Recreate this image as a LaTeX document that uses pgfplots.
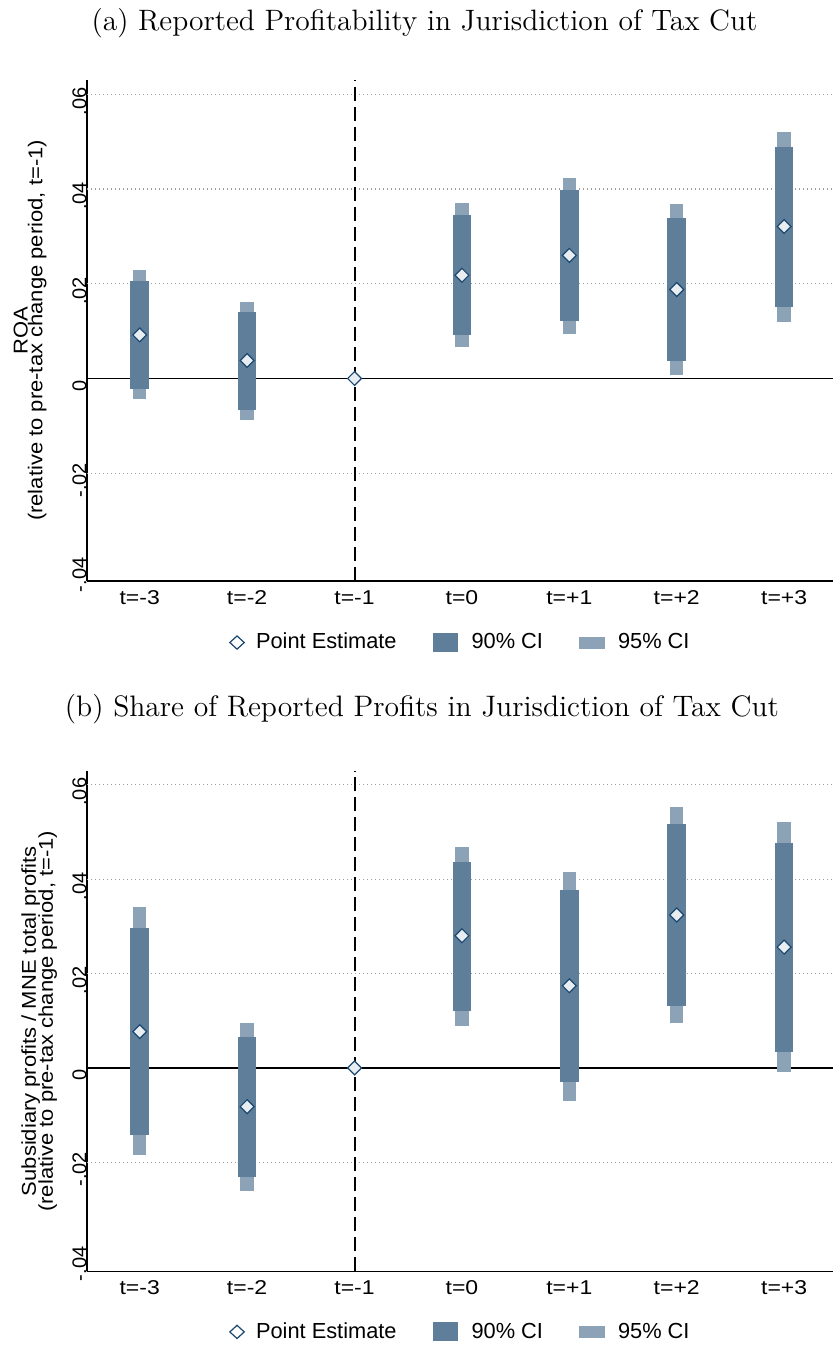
\documentclass[border=0pt]{standalone}
\usepackage{fontspec}
\usepackage{pgfplots}
\usepackage{pgfplotstable}
\pgfplotsset{compat=1.18}
\newfontfamily\sans{Liberation Sans}
\newfontfamily\xsans[FakeStretch=1.15]{Liberation Sans}
\newfontfamily\ysans[FakeStretch=1.1]{Liberation Sans}
\definecolor{navy}{RGB}{26,71,111}
\definecolor{ciA}{RGB}{95,126,154}
\definecolor{ciB}{RGB}{140,163,183}
\definecolor{ptfill}{RGB}{232,237,241}

\pgfplotstableread{
x est lo90 hi90 lo95 hi95
0 0.0092 -0.0022 0.0206 -0.0044 0.0229
1 0.0038 -0.0067 0.0140 -0.0087 0.0161
3 0.0218 0.0091 0.0345 0.0067 0.0370
4 0.0260 0.0122 0.0398 0.0095 0.0424
5 0.0188 0.0036 0.0338 0.0007 0.0368
6 0.0321 0.0152 0.0488 0.0120 0.0521
}\topci
\pgfplotstableread{
x est
0 0.0092
1 0.0038
2 0
3 0.0218
4 0.0260
5 0.0188
6 0.0321
}\toppt
\pgfplotstableread{
x est lo90 hi90 lo95 hi95
0 0.0077 -0.0143 0.0297 -0.0185 0.0341
1 -0.0082 -0.0231 0.0066 -0.0260 0.0095
3 0.0280 0.0120 0.0437 0.0089 0.0469
4 0.0174 -0.0030 0.0378 -0.0070 0.0416
5 0.0324 0.0132 0.0516 0.0095 0.0552
6 0.0256 0.0034 0.0477 -0.0008 0.0520
}\botci
\pgfplotstableread{
x est
0 0.0077
1 -0.0082
2 0
3 0.0280
4 0.0174
5 0.0324
6 0.0256
}\botpt

\pgfplotsset{
  evstyle/.style={
    scale only axis, width=373pt, xmin=-0.491, xmax=6.455,
    axis lines=left, axis line style={-, line width=0.75pt, black},
    major tick length=0pt, scaled y ticks=false,
    xtick={0,...,6}, xticklabels={{t=-3},{t=-2},{t=-1},{t=0},{t=+1},{t=+2},{t=+3}},
    ytick={-0.04,-0.02,0,0.02,0.04,0.06}, yticklabels={-.04,-.02,0,.02,.04,.06},
    xticklabel style={font=\xsans\fontsize{10}{11}\selectfont, anchor=north, inner sep=0pt, yshift=-4.5pt},
    yticklabel style={font=\sans\fontsize{10}{11}\selectfont, rotate=90, anchor=south, inner sep=0pt, xshift=-3.5pt},
    extra y ticks={-0.02,0.02,0.04,0.06},
    extra y tick style={grid=major, yticklabel=\empty, major grid style={black!38, line width=0.6pt, dash pattern=on 0.55pt off 1.45pt}},
    every axis title/.style={anchor=base, inner sep=0pt},
    legend columns=3, legend cell align=left,
    legend style={draw=none, fill=none, inner sep=0pt, outer sep=0pt, anchor=west,
      font=\sans\fontsize{10.9}{12}\selectfont, nodes={inner sep=0pt},
      /tikz/every even column/.append style={column sep=18pt}},
    every axis y label/.style={rotate=90, anchor=south, align=center, inner sep=0pt,
      font=\ysans\fontsize{10}{12}\selectfont},
  },
  ci95/.style={only marks, mark=none, forget plot, error bars/.cd, y dir=both, y explicit, error mark=none,
      error bar style={line width=6.65pt, color=ciB}},
  ci90/.style={only marks, mark=none, forget plot, error bars/.cd, y dir=both, y explicit, error mark=none,
      error bar style={line width=9.35pt, color=ciA}},
  ptstyle/.style={only marks, forget plot, mark=square*, mark size=2.45pt,
      mark options={rotate=45, fill=ptfill, draw=navy, line width=0.6pt}},
  gridz/.style={forget plot, black, line width=0.95pt},
  vdash/.style={forget plot, black, line width=1pt, dash pattern=on 7pt off 3pt},
}

\newcommand{\legimgs}{%
  \addlegendimage{legend image code/.code={\path[draw=none,fill=none] (0pt,-4.75pt) rectangle (19.5pt,4.75pt);
     \draw[navy, fill=white, line width=0.6pt] (10pt,3.3pt) -- (13.6pt,0pt) -- (10pt,-3.3pt) -- (6.4pt,0pt) -- cycle;}}
  \addlegendentry{Point Estimate}
  \addlegendimage{legend image code/.code={\path[draw=none,fill=none] (0pt,-4.75pt) rectangle (19.5pt,4.75pt);
     \fill[ciA, draw=none] (0pt,-4.75pt) rectangle (12.5pt,4.75pt);}}
  \addlegendentry{90\% CI}
  \addlegendimage{legend image code/.code={\path[draw=none,fill=none] (0pt,-4.75pt) rectangle (19.5pt,4.75pt);
     \fill[ciB, draw=none] (0pt,-3pt) rectangle (13pt,3pt);}}
  \addlegendentry{95\% CI}
}

\begin{document}
\begin{tikzpicture}
\path[use as bounding box] (0,0) rectangle (416.5pt,-673.5pt);

\begin{axis}[evstyle, at={(43.5pt,-290.5pt)}, anchor=south west,
  height=250.5pt, ymin=-0.04277, ymax=0.06304,
  title={(a) Reported Profitability in Jurisdiction of Tax Cut},
  title style={at={(axis description cs:0.4524,1.0998)}, font=\fontsize{14.75}{17}\selectfont},
  ylabel={ROA\\[-4.6pt](relative to pre-tax change period, t=-1)},
  ylabel style={at={(axis description cs:-0.0536,0.5)}},
  legend style={at={(axis description cs:0.1743,-0.1228)}},
]
\legimgs
\addplot[gridz] coordinates {(-0.491,0) (6.455,0)};
\addplot[vdash] coordinates {(2,-0.04277) (2,0.06304)};
\addplot[ci95] table[x=x, y=est, y error plus expr=\thisrow{hi95}-\thisrow{est}, y error minus expr=\thisrow{est}-\thisrow{lo95}] {\topci};
\addplot[ci90] table[x=x, y=est, y error plus expr=\thisrow{hi90}-\thisrow{est}, y error minus expr=\thisrow{est}-\thisrow{lo90}] {\topci};
\addplot[ptstyle] table[x=x, y=est] {\toppt};
\end{axis}

\begin{axis}[evstyle, at={(43.5pt,-635.7pt)}, anchor=south west,
  height=250.2pt, ymin=-0.0431, ymax=0.0629,
  title={(b) Share of Reported Profits in Jurisdiction of Tax Cut},
  title style={at={(axis description cs:0.449,1.1089)}, font=\fontsize{14.8}{17}\selectfont},
  ylabel={Subsidiary profits / MNE total profits\\[-3.6pt](relative to pre-tax change period, t=-1)},
  ylabel style={at={(axis description cs:-0.0398,0.5)}},
  legend style={at={(axis description cs:0.1743,-0.1209)}},
]
\legimgs
\addplot[gridz] coordinates {(-0.491,0) (6.455,0)};
\addplot[vdash] coordinates {(2,-0.0431) (2,0.0629)};
\addplot[ci95] table[x=x, y=est, y error plus expr=\thisrow{hi95}-\thisrow{est}, y error minus expr=\thisrow{est}-\thisrow{lo95}] {\botci};
\addplot[ci90] table[x=x, y=est, y error plus expr=\thisrow{hi90}-\thisrow{est}, y error minus expr=\thisrow{est}-\thisrow{lo90}] {\botci};
\addplot[ptstyle] table[x=x, y=est] {\botpt};
\end{axis}
\end{tikzpicture}
\end{document}
